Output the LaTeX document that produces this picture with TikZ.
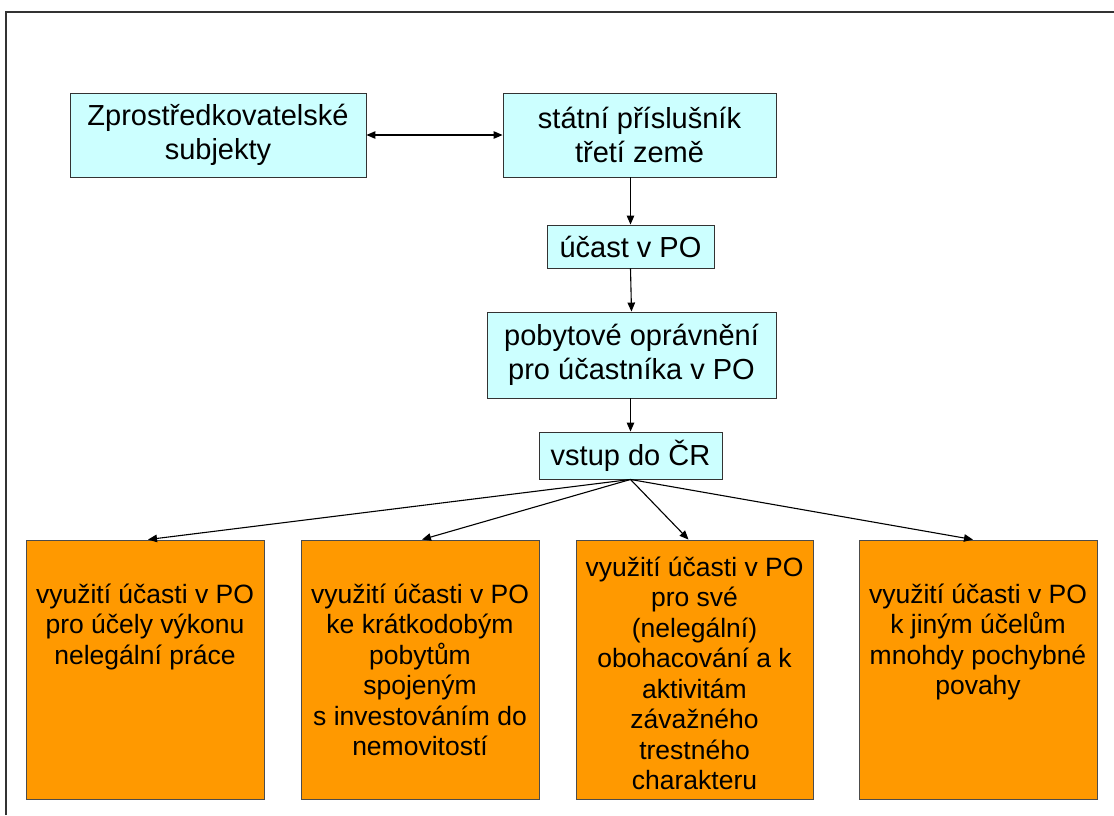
\documentclass[tikz,border=0pt]{standalone}
\usepackage{fontspec}
\setmainfont{Liberation Sans}
\usetikzlibrary{arrows.meta}
\definecolor{boxcyan}{RGB}{204,255,255}
\definecolor{boxorange}{RGB}{255,153,0}
\tikzset{
  cyanbox/.style={draw=black!80, fill=boxcyan, line width=0.9pt, inner sep=0pt,
    align=center, font=\fontsize{29pt}{34pt}\selectfont},
  orangebox/.style={draw=black!70, fill=boxorange, line width=0.9pt, inner sep=0pt,
    minimum width=238pt, minimum height=259pt},
  orangetext/.style={inner sep=0pt, align=center, font=\fontsize{26.5pt}{30.5pt}\selectfont},
  link/.style={line width=1.1pt, -{Triangle[length=9pt,width=7.5pt]}},
  frameline/.style={line width=1.6pt, black!80}
}
\begin{document}
\begin{tikzpicture}[x=1pt, y=-1pt]
\useasboundingbox (0,0) rectangle (1114,815);

% slide frame
\draw[frameline] (6,815) -- (6,12) -- (1114,12);

% upper chain
\node[cyanbox, minimum width=296pt, minimum height=84pt] (a) at (218,135)
  {Zprostředkovatelské\\subjekty};
\node[cyanbox, minimum width=273pt, minimum height=84pt] (b) at (639.5,135)
  {státní příslušník\\třetí země};
\node[cyanbox, minimum width=167pt, minimum height=43pt] (c) at (630.5,246.5)
  {účast v PO};
\node[cyanbox, minimum width=289pt, minimum height=86pt] (d) at (631.5,355)
  {pobytové oprávnění\\pro účastníka v PO};
\node[cyanbox, minimum width=183pt, minimum height=47pt] (e) at (630.5,455.5)
  {vstup do ČR};

% four outcomes
\node[orangebox] (o1) at (145,669.5) {};
\node[orangebox] (o2) at (420,669.5) {};
\node[orangebox, minimum width=237pt] (o3) at (694.5,669.5) {};
\node[orangebox] (o4) at (978,669.5) {};

\node[orangetext, anchor=north] (t1) at ([yshift=-44]o1.north)
  {využití účasti v PO\\pro účely výkonu\\nelegální práce};
\node[orangetext, anchor=north] (t2) at ([yshift=-44]o2.north)
  {využití účasti v PO\\ke krátkodobým\\pobytům\\spojeným\\s investováním do\\nemovitostí};
\node[orangetext] (t3) at ([yshift=-4]o3.center)
  {využití účasti v PO\\pro své\\(nelegální)\\obohacování a k\\aktivitám\\závažného\\trestného\\charakteru};
\node[orangetext, anchor=north] (t4) at ([yshift=-44]o4.north)
  {využití účasti v PO\\k jiným účelům\\mnohdy pochybné\\povahy};

% connectors
\draw[line width=1.1pt, {Triangle[length=9pt,width=7.5pt]}-{Triangle[length=9pt,width=7.5pt]}]
  (a.east) -- (b.west);
\draw[link] (c.north |- b.south) -- (c.north);
\draw[link] (c.south) -- (d.north);
\draw[link] (e.north |- d.south) -- (e.north);
\draw[link] (e.south) -- ([xshift=3]o1.north);
\draw[link] (e.south) -- ([xshift=2]o2.north);
\draw[link] (e.south) -- ([xshift=-6]o3.north);
\draw[link] (e.south) -- ([xshift=-5]o4.north);
\end{tikzpicture}
\end{document}
